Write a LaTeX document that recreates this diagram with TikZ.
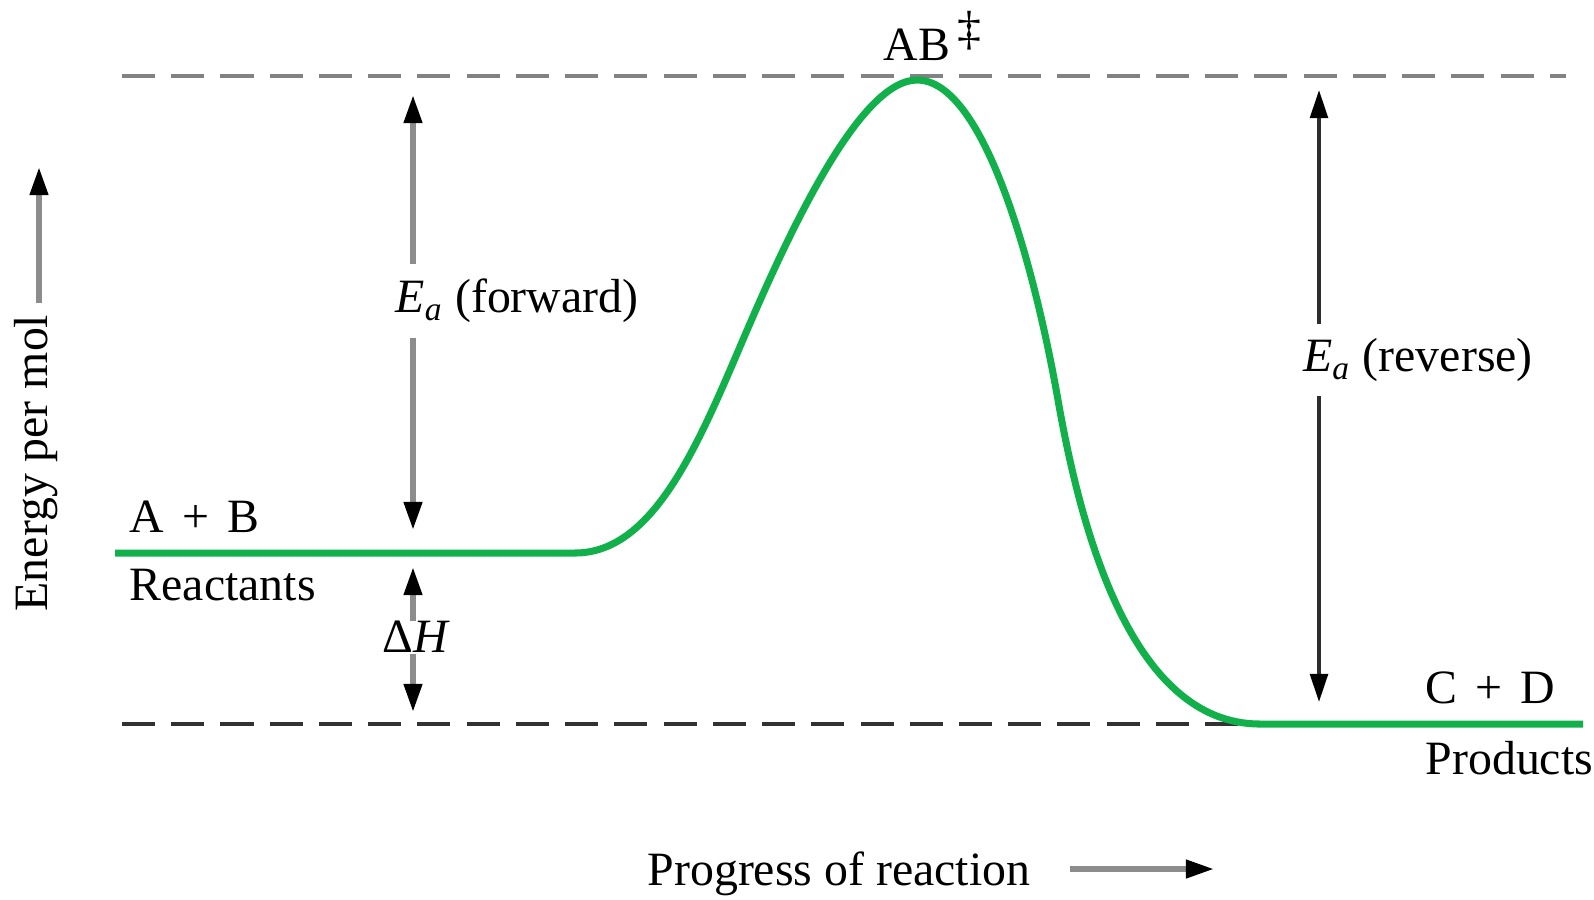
\documentclass[tikz,border=0pt]{standalone}
\usepackage{fontspec}
\setmainfont{Liberation Serif}
\usetikzlibrary{arrows.meta}
\definecolor{curvegreen}{RGB}{18, 176, 74}
\definecolor{guidelight}{RGB}{130, 130, 130}
\definecolor{guidedark}{RGB}{50, 50, 50}
\definecolor{shaft}{RGB}{140, 140, 140}
\definecolor{shaftdark}{RGB}{45, 45, 45}

\begin{document}
\begin{tikzpicture}[
  x=0.01cm, y=-0.01cm,
  every node/.style={font=\fontsize{13.6}{16}\selectfont, inner sep=0pt},
  level/.style={dash pattern=on 9.4pt off 4.6pt, line width=#1},
  energy/.style={curvegreen, line width=2pt},
  arr/.style={-{Triangle[length=8pt, width=5pt, black]}, shaft, line width=1.6pt},
  darr/.style={-{Triangle[length=8pt, width=5pt, black]}, shaftdark, line width=1.1pt},
  gap/.style={inner ysep=4pt},
]
\useasboundingbox (0,0) rectangle (1594,899);

% Energy levels
\draw[level=1.4pt, guidelight] (122,76) -- (1566,76);
\draw[level=1pt, guidedark] (122,724) -- (1240,724);

% Reaction curve
\draw[energy] (115,553) -- (575,553)
  .. controls (655,553) and (700,440) .. (745,335)
  .. controls (790,230) and (860,80) .. (917,80)
  .. controls (985,80) and (1035,270) .. (1058,400)
  .. controls (1080,525) and (1130,724) .. (1260,724)
  -- (1583,724);

% Species
\newcommand{\plusgap}{\hspace{1.7pt} + \hspace{1.7pt}}
\node[anchor=base west] (ab) at (129,532) {A\plusgap B};
\node[anchor=base west] (reac) at (129,600) {Reactants};
\node[anchor=base west] (cd) at (1425,703) {C\plusgap D};
\node[anchor=base west] (prod) at (1425,774) {Products};
\node[anchor=base west] (ts) at (883,60) {AB\hspace{2pt}\raisebox{4.4pt}{‡}};

% Forward barrier
\coordinate (fwdtop) at (413,95);
\coordinate (fwdbot) at (413,530);
\node[gap] (fwd) at (517,301) {\textit{E}\textsubscript{\textit{a}} (forward)};
\draw[arr] (fwd.north -| fwdtop) -- (fwdtop);
\draw[arr] (fwd.south -| fwdbot) -- (fwdbot);

% Enthalpy change
\coordinate (dhtop) at (413,567);
\coordinate (dhbot) at (413,712);
\node (dh) at (416,637) {Δ\textit{H}};
\draw[arr] (dh.north -| dhtop) -- (dhtop);
\draw[arr] (dh.south -| dhbot) -- (dhbot);

% Reverse barrier
\coordinate (revtop) at (1319,90);
\coordinate (revbot) at (1319,702);
\node[gap] (rev) at (1418,360) {\textit{E}\textsubscript{\textit{a}} (reverse)};
\draw[darr] (rev.north -| revtop) -- (revtop);
\draw[darr] (rev.south -| revbot) -- (revbot);

% Axes
\node[rotate=90] (ylab) at (36,463) {Energy per mol};
\coordinate (ytip) at (39,167);
\draw[arr, shorten <=3pt] (ylab.east -| ytip) -- (ytip);
\node[anchor=base west] (xlab) at (647,885) {Progress of reaction};
\coordinate (xtip) at (1214,869);
\draw[arr, shorten <=11pt] (xlab.east |- xtip) -- (xtip);

\end{tikzpicture}
\end{document}
